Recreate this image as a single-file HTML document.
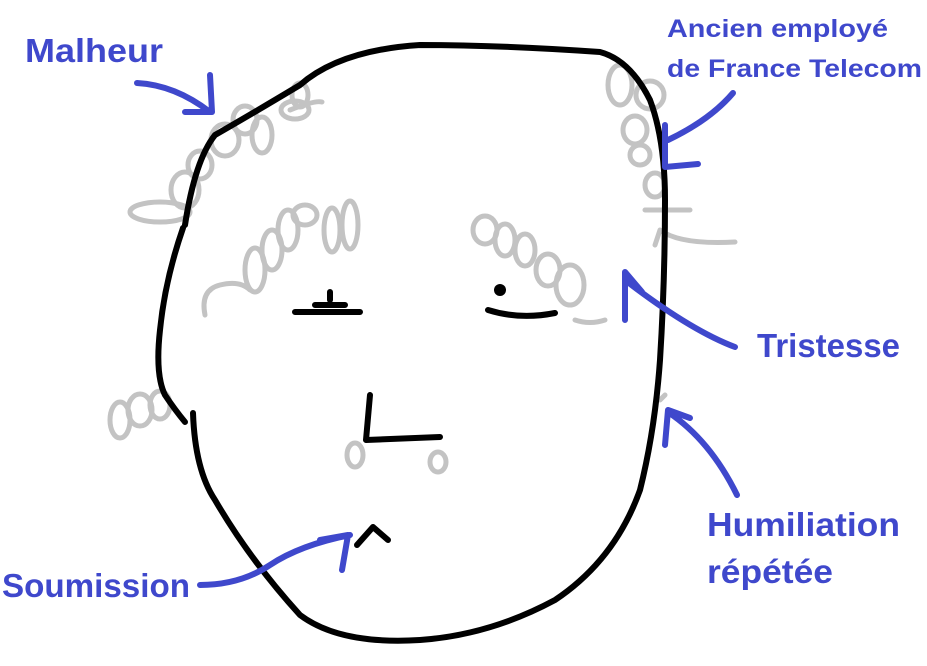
<!DOCTYPE html>
<html><head><meta charset="utf-8"><style>
html,body{margin:0;padding:0;background:#fff;}
svg{display:block;}
text{font-family:"Liberation Sans",sans-serif;font-weight:bold;fill:#3f48cc;}
</style></head><body>
<svg width="927" height="666" viewBox="0 0 927 666" xmlns="http://www.w3.org/2000/svg">
<g fill="none" stroke="#c3c3c3" stroke-width="5" stroke-linecap="round" stroke-linejoin="round">
<ellipse cx="160" cy="212" rx="30" ry="10"/>
<ellipse cx="185" cy="190" rx="14" ry="18"/>
<ellipse cx="200" cy="165" rx="12" ry="14"/>
<ellipse cx="225" cy="140" rx="14" ry="16"/>
<ellipse cx="245" cy="120" rx="12" ry="14"/>
<ellipse cx="262" cy="135" rx="10" ry="18"/>
<ellipse cx="295" cy="110" rx="14" ry="9"/>
<ellipse cx="300" cy="95" rx="8" ry="12"/>
<path d="M290 110 Q315 100 322 102"/>
<ellipse cx="620" cy="85" rx="12" ry="20"/>
<ellipse cx="650" cy="95" rx="14" ry="14"/>
<ellipse cx="635" cy="130" rx="12" ry="14"/>
<ellipse cx="640" cy="155" rx="10" ry="10"/>
<ellipse cx="655" cy="185" rx="10" ry="12"/>
<path d="M645 210 L690 210 M660 230 Q680 245 735 242 M655 245 L660 230"/>
<path d="M205 315 Q200 290 220 285 Q240 280 250 290"/>
<ellipse cx="255" cy="270" rx="10" ry="22"/>
<ellipse cx="272" cy="250" rx="10" ry="20"/>
<ellipse cx="288" cy="230" rx="10" ry="20"/>
<ellipse cx="305" cy="215" rx="12" ry="10"/>
<ellipse cx="332" cy="230" rx="8" ry="22"/>
<ellipse cx="350" cy="225" rx="8" ry="24"/>
<ellipse cx="485" cy="230" rx="12" ry="14"/>
<ellipse cx="505" cy="240" rx="10" ry="16"/>
<ellipse cx="525" cy="250" rx="10" ry="16"/>
<ellipse cx="548" cy="270" rx="12" ry="16"/>
<ellipse cx="570" cy="285" rx="14" ry="20"/>
<path d="M575 320 Q590 325 605 320"/>
<ellipse cx="120" cy="420" rx="10" ry="18"/>
<ellipse cx="140" cy="410" rx="12" ry="16"/>
<ellipse cx="160" cy="405" rx="10" ry="14"/>
<ellipse cx="355" cy="455" rx="8" ry="12"/>
<ellipse cx="438" cy="462" rx="8" ry="10"/>
<path d="M660 400 L665 395"/>
</g>
<g fill="none" stroke="#000" stroke-width="6" stroke-linecap="round" stroke-linejoin="round">
<path d="M183 228 Q165 280 160 330 Q155 375 165 395 Q175 410 185 422"/>
<path d="M193 413 Q195 470 215 500 Q250 560 300 615 Q340 645 420 640 Q490 635 555 600 Q615 560 640 490 Q655 430 660 360 Q665 280 665 200 Q665 140 650 100 Q630 60 600 52 Q500 45 420 45 Q340 50 300 85 Q250 115 215 135 Q195 160 185 225"/>
<path d="M295 312 L360 312 M315 305 L345 305 M330 292 L330 300"/>
<path d="M488 310 Q520 320 555 313"/>
<path d="M370 395 L366 440 L440 437"/>
<path d="M357 545 L373 527 L388 540"/>
</g>
<circle cx="500" cy="290" r="6" fill="#000"/>
<g fill="none" stroke="#3f48cc" stroke-width="6" stroke-linecap="round" stroke-linejoin="round">
<path d="M137 83 Q175 85 210 112 M210 75 L212 112 L185 112"/>
<path d="M733 93 Q710 120 668 140 M665 125 L665 167 L698 164"/>
<path d="M735 347 Q690 330 625 280 M625 320 L625 272 L642 292"/>
<path d="M737 495 Q710 440 668 412 M665 445 L668 410 L690 418"/>
<path d="M200 585 Q240 585 270 565 Q300 545 350 535 M342 570 L348 535 L320 540"/>
</g>
<text x="25" y="62" font-size="33" textLength="138" lengthAdjust="spacingAndGlyphs">Malheur</text>
<text x="667" y="37" font-size="25" textLength="221" lengthAdjust="spacingAndGlyphs">Ancien employé</text>
<text x="667" y="77" font-size="25" textLength="255" lengthAdjust="spacingAndGlyphs">de France Telecom</text>
<text x="757" y="357" font-size="33" textLength="143" lengthAdjust="spacingAndGlyphs">Tristesse</text>
<text x="707" y="536" font-size="33" textLength="193" lengthAdjust="spacingAndGlyphs">Humiliation</text>
<text x="707" y="583" font-size="33" textLength="126" lengthAdjust="spacingAndGlyphs">répétée</text>
<text x="2" y="597" font-size="33" textLength="188" lengthAdjust="spacingAndGlyphs">Soumission</text>
</svg>
</body></html>
